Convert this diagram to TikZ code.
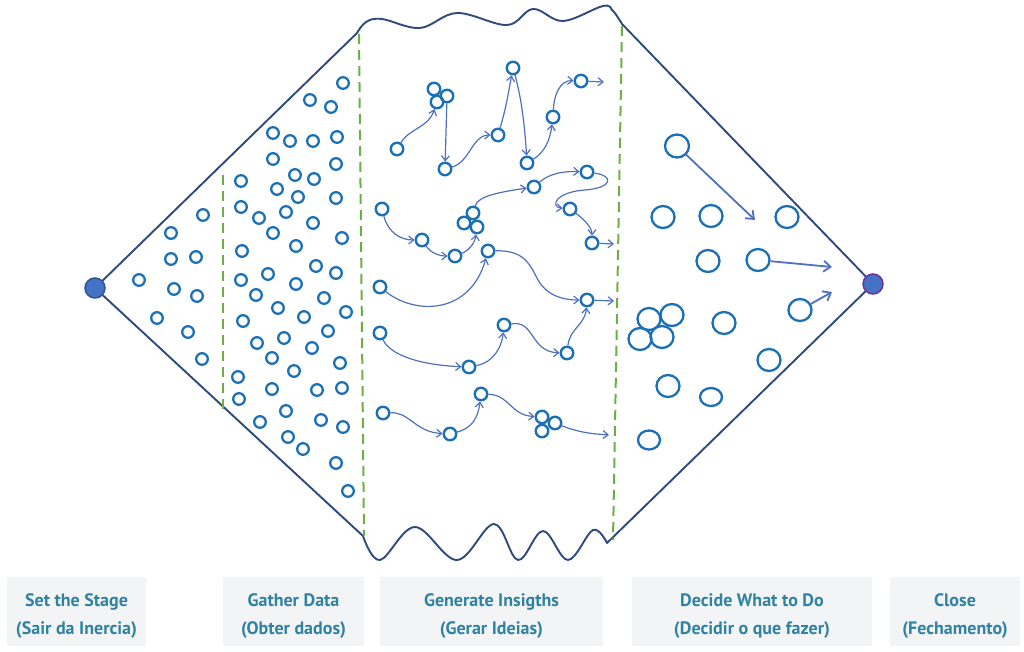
\documentclass[tikz,border=0pt]{standalone}
\usepackage{fontspec}
\setmainfont{PT Sans}
\usetikzlibrary{arrows.meta,shapes.geometric}
\definecolor{outl}{HTML}{2E4A7D}
\definecolor{circ}{HTML}{1B70B5}
\definecolor{arrc}{HTML}{4F6FC0}
\definecolor{grn}{HTML}{70AD47}
\definecolor{lbl}{HTML}{2F82A0}
\definecolor{lblbg}{HTML}{F3F4F5}
\definecolor{dotf}{HTML}{4472C4}
\definecolor{dotl}{HTML}{2F5597}
\definecolor{dotr}{HTML}{7030A0}
\newcommand{\lblstrut}{\rule{0pt}{22pt}}
\begin{document}
\begin{tikzpicture}[x=1pt,y=-1pt,
  outline/.style={draw=outl,line width=1.9pt,line join=round},
  divider/.style={draw=grn,line width=2pt,dash pattern=on 10pt off 6pt},
  smallc/.style={draw=circ,line width=2.3pt},
  ins/.style={circle,draw=circ,line width=2.4pt,minimum size=12.5pt,inner sep=0pt},
  dec/.style={ellipse,draw=circ,line width=2.3pt,minimum width=23pt,minimum height=22pt,inner sep=0pt},
  enddot/.style={circle,fill=dotf,line width=1.5pt,minimum size=20pt,inner sep=0pt},
  arr/.style={draw=arrc,line width=1.2pt,-{Straight Barb[length=5pt,width=8pt]}},
  bigarr/.style={draw=arrc,line width=1.8pt,-{Straight Barb[length=7pt,width=11pt]}},
  lblbox/.style={fill=lblbg,minimum height=69pt,align=center,text=lbl,
    font=\fontsize{18}{28}\selectfont\bfseries,inner sep=0pt}]
\useasboundingbox (0,0) rectangle (1024,651);

% ---- outline of the diagram ----
\draw[outline] (95,288) -- (357,33)
  -- plot[smooth,tension=0.6] coordinates {(357,33) (366,22) (382,19) (420,28) (457,13) (507,25) (533,9) (563,21) (603,6) (613,11) (622,24)}
  -- (873,284) -- (607,543)
  -- plot[smooth,tension=0.6] coordinates {(607,543) (593,530) (568,560) (543,531) (518,560) (494,524) (457,560) (415,527) (380,560) (363,536)}
  -- cycle;

% ---- dividers ----
\draw[divider] (223,175) -- (223,411);
\draw[divider] (359,34) -- (364,536);
\draw[divider] (622,26) -- (613,540);

% ---- end dots ----
\node[enddot,draw=dotl] (ldot) at (95,288) {};
\node[enddot,draw=dotr] (rdot) at (873,284) {};

% ---- Set the Stage circles ----
\foreach \p in {(203,215),(171,233),(171,259),(196,257),(139,280),(174,289),(197,296),(157,318),(188,332),(202,359)}
  \draw[smallc] \p circle[radius=5.8pt];

% ---- Gather Data circles ----
\foreach \p in {(343,83),(310,100),(331,107),(273,133),(290,141),(313,141),(337,137),(273,159),(336,164),(241,181),
  (295,175),(314,179),(277,189),(298,197),(336,198),(241,207),(259,218),(286,212),(313,223),(273,233),
  (296,246),(342,238),(242,251),(316,266),(336,273),(268,274),(241,280),(296,284),(256,295),(324,298),
  (278,308),(304,317),(346,312),(243,321),(328,331),(257,343),(284,338),(312,348),(272,358),(340,363),
  (294,371),(238,377),(272,389),(317,390),(342,388),(239,399),(286,411),(260,422),(321,420),(343,427),
  (288,437),(303,449),(336,463),(348,491)}
  \draw[smallc] \p circle[radius=5.8pt];

% ---- Generate Insights ----
\node[ins] (a1) at (397,149) {};
\node[ins] (c1a) at (434,89) {};
\node[ins] (c1b) at (447,96) {};
\node[ins] (c1c) at (437,102) {};
\node[ins] (b1) at (445,169) {};
\node[ins] (c) at (498,135) {};
\node[ins] (d) at (513,68) {};
\node[ins] (e) at (527,163) {};
\node[ins] (f) at (553,117) {};
\node[ins] (g) at (581,81) {};
\coordinate (gend) at (604,82);
\node[ins] (h) at (382,209) {};
\node[ins] (i) at (422,240) {};
\node[ins] (j) at (455,256) {};
\node[ins] (k1) at (473,213) {};
\node[ins] (k2) at (464,223) {};
\node[ins] (k3) at (477,227) {};
\node[ins] (m1) at (534,187) {};
\node[ins] (l) at (587,172) {};
\node[ins] (m) at (570,209) {};
\node[ins] (n) at (592,243) {};
\coordinate (nend) at (614,244);
\node[ins] (o) at (488,251) {};
\node[ins] (p) at (380,287) {};
\node[ins] (q) at (587,300) {};
\coordinate (qend) at (614,301);
\node[ins] (r) at (380,333) {};
\node[ins] (s) at (469,367) {};
\node[ins] (t) at (504,325) {};
\node[ins] (u) at (567,353) {};
\node[ins] (v) at (383,413) {};
\node[ins] (w) at (450,434) {};
\node[ins] (x) at (481,394) {};
\node[ins] (z1) at (542,417) {};
\node[ins] (z2) at (555,423) {};
\node[ins] (z3) at (542,431) {};
\coordinate (zend) at (609,435);

\draw[arr] (a1) .. controls (410,128) and (428,128) .. (c1c);
\draw[arr] (c1b) -- (b1);
\draw[arr] (b1) .. controls (470,162) and (472,135) .. (c);
\draw[arr] (c) .. controls (506,108) and (508,95) .. (d);
\draw[arr] (d) .. controls (522,100) and (525,130) .. (e);
\draw[arr] (e) .. controls (545,152) and (550,140) .. (f);
\draw[arr] (f) .. controls (554,95) and (560,80) .. (g);
\draw[arr] (g) -- (gend);
\draw[arr] (h) .. controls (388,232) and (400,240) .. (i);
\draw[arr] (i) .. controls (430,252) and (438,256) .. (j);
\draw[arr] (j) .. controls (470,250) and (475,242) .. (k3);
\draw[arr] (k1) .. controls (478,196) and (500,192) .. (m1);
\draw[arr] (m1) .. controls (550,173) and (565,171) .. (l);
\draw[arr] (l) .. controls (615,176) and (612,188) .. (585,190) .. controls (555,192) and (550,207) .. (m);
\draw[arr] (m) .. controls (585,220) and (592,228) .. (n);
\draw[arr] (n) -- (nend);
\draw[arr] (p) .. controls (415,315) and (470,315) .. (o);
\draw[arr] (o) .. controls (525,250) and (530,265) .. (538,280) .. controls (548,297) and (565,300) .. (q);
\draw[arr] (q) -- (qend);
\draw[arr] (r) .. controls (390,355) and (420,365) .. (s);
\draw[arr] (s) .. controls (495,362) and (502,345) .. (t);
\draw[arr] (t) .. controls (535,320) and (530,352) .. (u);
\draw[arr] (u) .. controls (570,328) and (585,325) .. (q);
\draw[arr] (v) .. controls (410,412) and (415,432) .. (w);
\draw[arr] (w) .. controls (472,428) and (478,418) .. (x);
\draw[arr] (x) .. controls (510,395) and (510,415) .. (z1);
\draw[arr] (z2) .. controls (580,433) and (595,434) .. (zend);

% ---- Decide What to Do ----
\node[dec,minimum width=24pt,minimum height=23pt] (big) at (677,146) {};
\coordinate (bigend) at (755,220);
\node[dec] (d1) at (663,217) {};
\node[dec] (d2) at (711,216) {};
\node[dec] (d3) at (787,217) {};
\node[dec] (d4) at (708,261) {};
\node[dec] (d5) at (758,260) {};
\coordinate (d5end) at (832,267);
\node[dec] (d6) at (800,310) {};
\coordinate (d6end) at (832,292);
\node[dec] (cl1) at (649,319) {};
\node[dec] (cl2) at (672,315) {};
\node[dec] (cl3) at (640,339) {};
\node[dec] (cl4) at (662,337) {};
\node[dec] (d7) at (724,323) {};
\node[dec] (d8) at (769,360) {};
\node[dec] (d9) at (668,386) {};
\node[dec,minimum width=22pt,minimum height=18pt] (d10) at (711,397) {};
\node[dec,minimum width=22pt,minimum height=19pt] (d11) at (649,440) {};
\draw[bigarr] (big) -- (bigend);
\draw[bigarr] (d5) -- (d5end);
\draw[bigarr] (d6) -- (d6end);

% ---- labels ----
\node[lblbox,minimum width=139pt] (l1) at (76.5,611.5) {\lblstrut Set the Stage\\(Sair da Inercia)};
\node[lblbox,minimum width=141pt] (l2) at (293.5,611.5) {\lblstrut Gather Data\\(Obter dados)};
\node[lblbox,minimum width=223pt] (l3) at (491.5,611.5) {\lblstrut Generate Insigths\\(Gerar Ideias)};
\node[lblbox,minimum width=240pt] (l4) at (752,611.5) {\lblstrut Decide What to Do\\(Decidir o que fazer)};
\node[lblbox,minimum width=130pt] (l5) at (955,611.5) {\lblstrut Close\\(Fechamento)};
\end{tikzpicture}
\end{document}
